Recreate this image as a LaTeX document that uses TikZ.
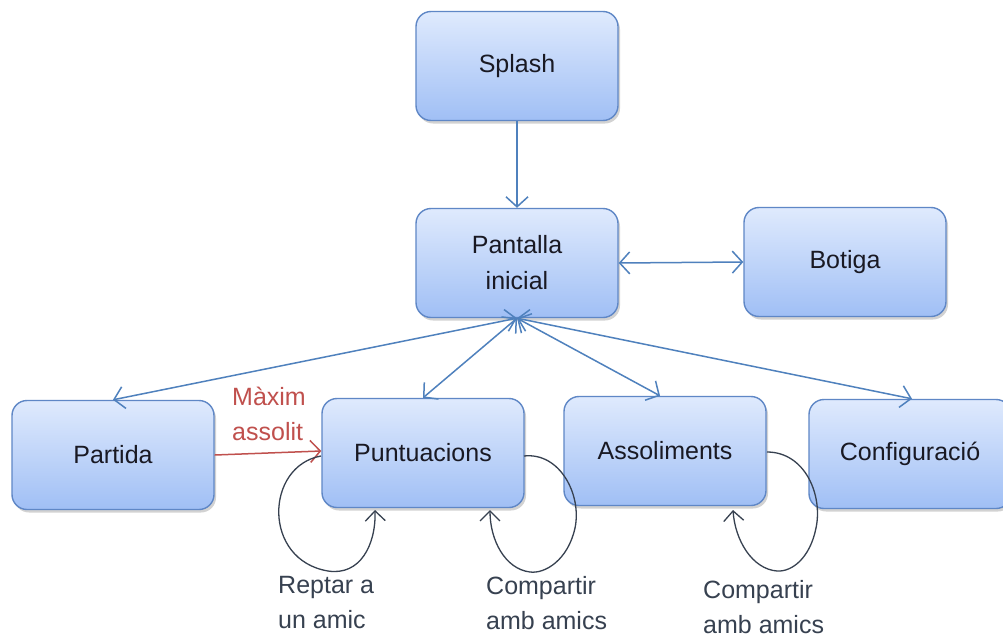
\documentclass[tikz,border=0pt]{standalone}
\usepackage{fontspec}
\setmainfont{Liberation Sans}
\usetikzlibrary{arrows.meta,shadows}
\definecolor{boxtop}{RGB}{223,234,253}
\definecolor{boxbot}{RGB}{160,191,245}
\definecolor{boxline}{RGB}{95,135,198}
\definecolor{arr}{RGB}{79,129,189}
\definecolor{loopc}{RGB}{55,65,80}
\definecolor{redc}{RGB}{192,80,77}
\definecolor{txt}{RGB}{25,25,35}
\begin{document}
\begin{tikzpicture}[x=1pt,y=-1pt,
  box/.style={draw=boxline, line width=1.4pt, rounded corners=15pt,
    top color=boxtop, bottom color=boxbot,
    minimum width=202pt, minimum height=109pt, align=center,
    text=txt, font=\fontsize{25}{36}\selectfont,
    drop shadow={shadow xshift=2pt, shadow yshift=-3pt, opacity=0.35}},
  conn/.style={draw=arr, line width=1.5pt},
  tipb/.style={-{Straight Barb[length=10pt,width=22pt]}},
  tipbb/.style={{Straight Barb[length=10pt,width=22pt]}-{Straight Barb[length=10pt,width=22pt]}},
  selfloop/.style={draw=loopc, line width=1.3pt, -{Straight Barb[length=10pt,width=20pt]}},
  lbl/.style={align=left, anchor=north west, inner sep=0pt, text=loopc, font=\fontsize{25}{35}\selectfont}
]
\useasboundingbox (0,0) rectangle (1003,637);
\clip (0,0) rectangle (1003,637);
\fill[white] (0,0) rectangle (1003,637);

\node[box] (splash) at (517,66) {Splash};
\node[box] (pant) at (517,263) {Pantalla\\inicial};
\node[box] (botiga) at (845,262) {Botiga};
\node[box] (partida) at (113,455) {Partida};
\node[box] (punt) at (423,453) {Puntuacions};
\node[box] (asso) at (665,451) {Assoliments};
\node[box] (conf) at (910,454) {Configuració};

\draw[conn,tipb] (splash.south) -- (pant.north);
\draw[conn,tipbb] (pant.east) -- (botiga.west);
\draw[conn,tipbb] (pant.south) -- (partida.north);
\draw[conn,tipbb] (pant.south) -- (punt.north);
\draw[conn,tipbb] (pant.south) -- ([xshift=-5pt]asso.north);
\draw[conn,tipbb] (pant.south) -- ([xshift=2pt]conf.north);

\draw[draw=redc, line width=1.5pt, -{Straight Barb[length=10pt,width=22pt]}] (partida.east) -- ([yshift=2pt]punt.west);
\node[lbl, text=redc] (maxim) at (232,387) {Màxim\\assolit};

\coordinate (l1s) at (321,456);
\coordinate (l1e) at (375,510);
\draw[selfloop] (l1s) .. controls (265,466) and (262,560) .. (328,571)
  .. controls (360,576) and (376,545) .. (l1e);

\coordinate (l2s) at (524,456);
\coordinate (l2e) at (490,510);
\draw[selfloop] (l2s) .. controls (560,452) and (582,495) .. (575,528)
  .. controls (568,560) and (545,574) .. (530,572)
  .. controls (505,569) and (490,540) .. (l2e);

\coordinate (l3s) at (767,452);
\coordinate (l3e) at (733,510);
\draw[selfloop] (l3s) .. controls (805,452) and (823,495) .. (816,528)
  .. controls (810,558) and (792,572) .. (777,571)
  .. controls (752,569) and (735,540) .. (l3e);

\node[lbl] (reptar) at (278,576) {Reptar a\\un amic};
\node[lbl] (comp1) at (486,576) {Compartir\\amb amics};
\node[lbl] (comp2) at (703,580) {Compartir\\amb amics};
\end{tikzpicture}
\end{document}
